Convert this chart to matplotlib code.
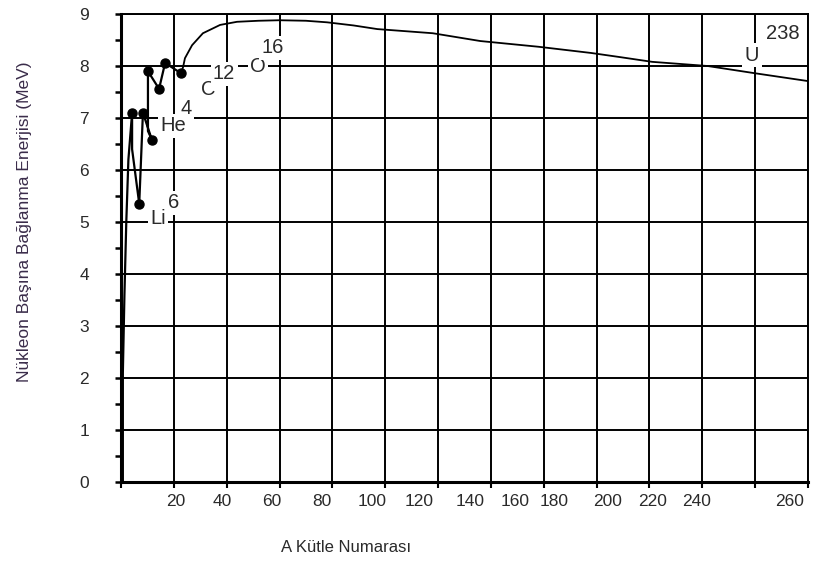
import matplotlib
matplotlib.use("Agg")
from matplotlib import pyplot as plt
import numpy as np

plt.rcParams["font.family"] = ["Liberation Sans", "DejaVu Sans"]

# light nuclei: jagged start of the curve
A_light = [0.7, 0.7, 1.3, 2.0, 2.8, 4.2, 4.2, 6.9, 8.3, 11.7, 10.2, 10.2, 14.4, 16.7, 22.7]
E_light = [0.0, 2.1, 3.6, 5.0, 6.2, 7.1, 6.4, 5.35, 7.1, 6.58, 6.75, 7.9, 7.56, 8.06, 7.86]

# measured points (dots)
A_dots = [4.2, 6.9, 8.3, 11.7, 10.2, 14.4, 16.7, 22.7]
E_dots = [7.1, 5.35, 7.1, 6.58, 7.9, 7.56, 8.06, 7.86]

# smooth part of the binding energy curve
A_main = [22.7, 23.5, 24.2, 26.9, 31, 37.5, 43.9, 52, 60, 70, 78, 88, 97,
          118, 136, 158, 178, 189, 201, 222, 240, 260]
E_main = [7.86, 7.98, 8.15, 8.4, 8.63, 8.79, 8.85, 8.87, 8.88, 8.87, 8.84, 8.78,
          8.71, 8.63, 8.48, 8.37, 8.25, 8.17, 8.08, 8.0, 7.86, 7.71]

# nuclide labels: (text, A, E)
labels = [("Li", 14.0, 5.06), ("6", 20.0, 5.37),
          ("He", 19.7, 6.85), ("4", 24.6, 7.19),
          ("C", 33.0, 7.54), ("12", 39.0, 7.85),
          ("O", 51.9, 8.0), ("16", 57.5, 8.35),
          ("U", 238.8, 8.21), ("238", 250.6, 8.62)]

# x tick labels sit a bit off the grid lines
xtick_text = ["20", "40", "60", "80", "100", "120", "140", "160", "180", "200", "220", "240", "260"]
xtick_pos = [20.8, 38.2, 57.2, 76, 95, 113, 132, 149, 164, 184, 201, 218, 253]
yticks = list(range(0, 10))

txt_color = "#2a2a2a"

fig = plt.figure(figsize=(8.3, 5.69), dpi=100)
ax = fig.add_axes([121 / 830, 1 - 482 / 569, 687 / 830, 468 / 569])

ax.set_xlim(0, 260)
ax.set_ylim(0, 9)

# grid on minor x ticks every 20, labels on major ticks
ax.set_xticks(np.arange(0, 261, 20), minor=True)
ax.set_xticks(xtick_pos)
ax.set_xticklabels(xtick_text, fontsize=12.5, color=txt_color)
ax.tick_params(axis="x", which="major", length=0, pad=9)
ax.tick_params(axis="x", which="minor", length=4, width=1.5, direction="out")
ax.grid(True, axis="x", which="minor", color="black", lw=1.4)

ax.set_yticks(yticks)
ax.set_yticks(np.arange(0.5, 9, 1.0), minor=True)
ax.set_yticklabels([str(v) for v in yticks], fontsize=12.5, color=txt_color)
ax.tick_params(axis="y", which="both", length=4, width=1.8, direction="out", pad=19)
ax.grid(True, axis="y", which="major", color="black", lw=1.4)
ax.set_axisbelow(True)

for side in ["top", "right"]:
    ax.spines[side].set_linewidth(1.4)
for side in ["left", "bottom"]:
    ax.spines[side].set_linewidth(2.2)

ax.plot(A_light, E_light, color="black", lw=1.6, zorder=3)
ax.plot(A_main, E_main, color="black", lw=1.3, zorder=3)
ax.plot(A_dots, E_dots, "o", color="black", ms=6.5, zorder=4)

for t, x, y in labels:
    ax.text(x, y, t, fontsize=14.5, color=txt_color, ha="center", va="center", zorder=5,
            bbox=dict(boxstyle="square,pad=0.12", facecolor="white", edgecolor="none"))

ax.set_xlabel("A Kütle Numarası", fontsize=12, color=txt_color, x=0.328, labelpad=22)
ax.set_ylabel("Nükleon Başına Bağlanma Enerjisi (MeV)", fontsize=12.5, color="#3a2c4a",
              y=0.556, labelpad=34)

plt.savefig("out.png", dpi=100)
